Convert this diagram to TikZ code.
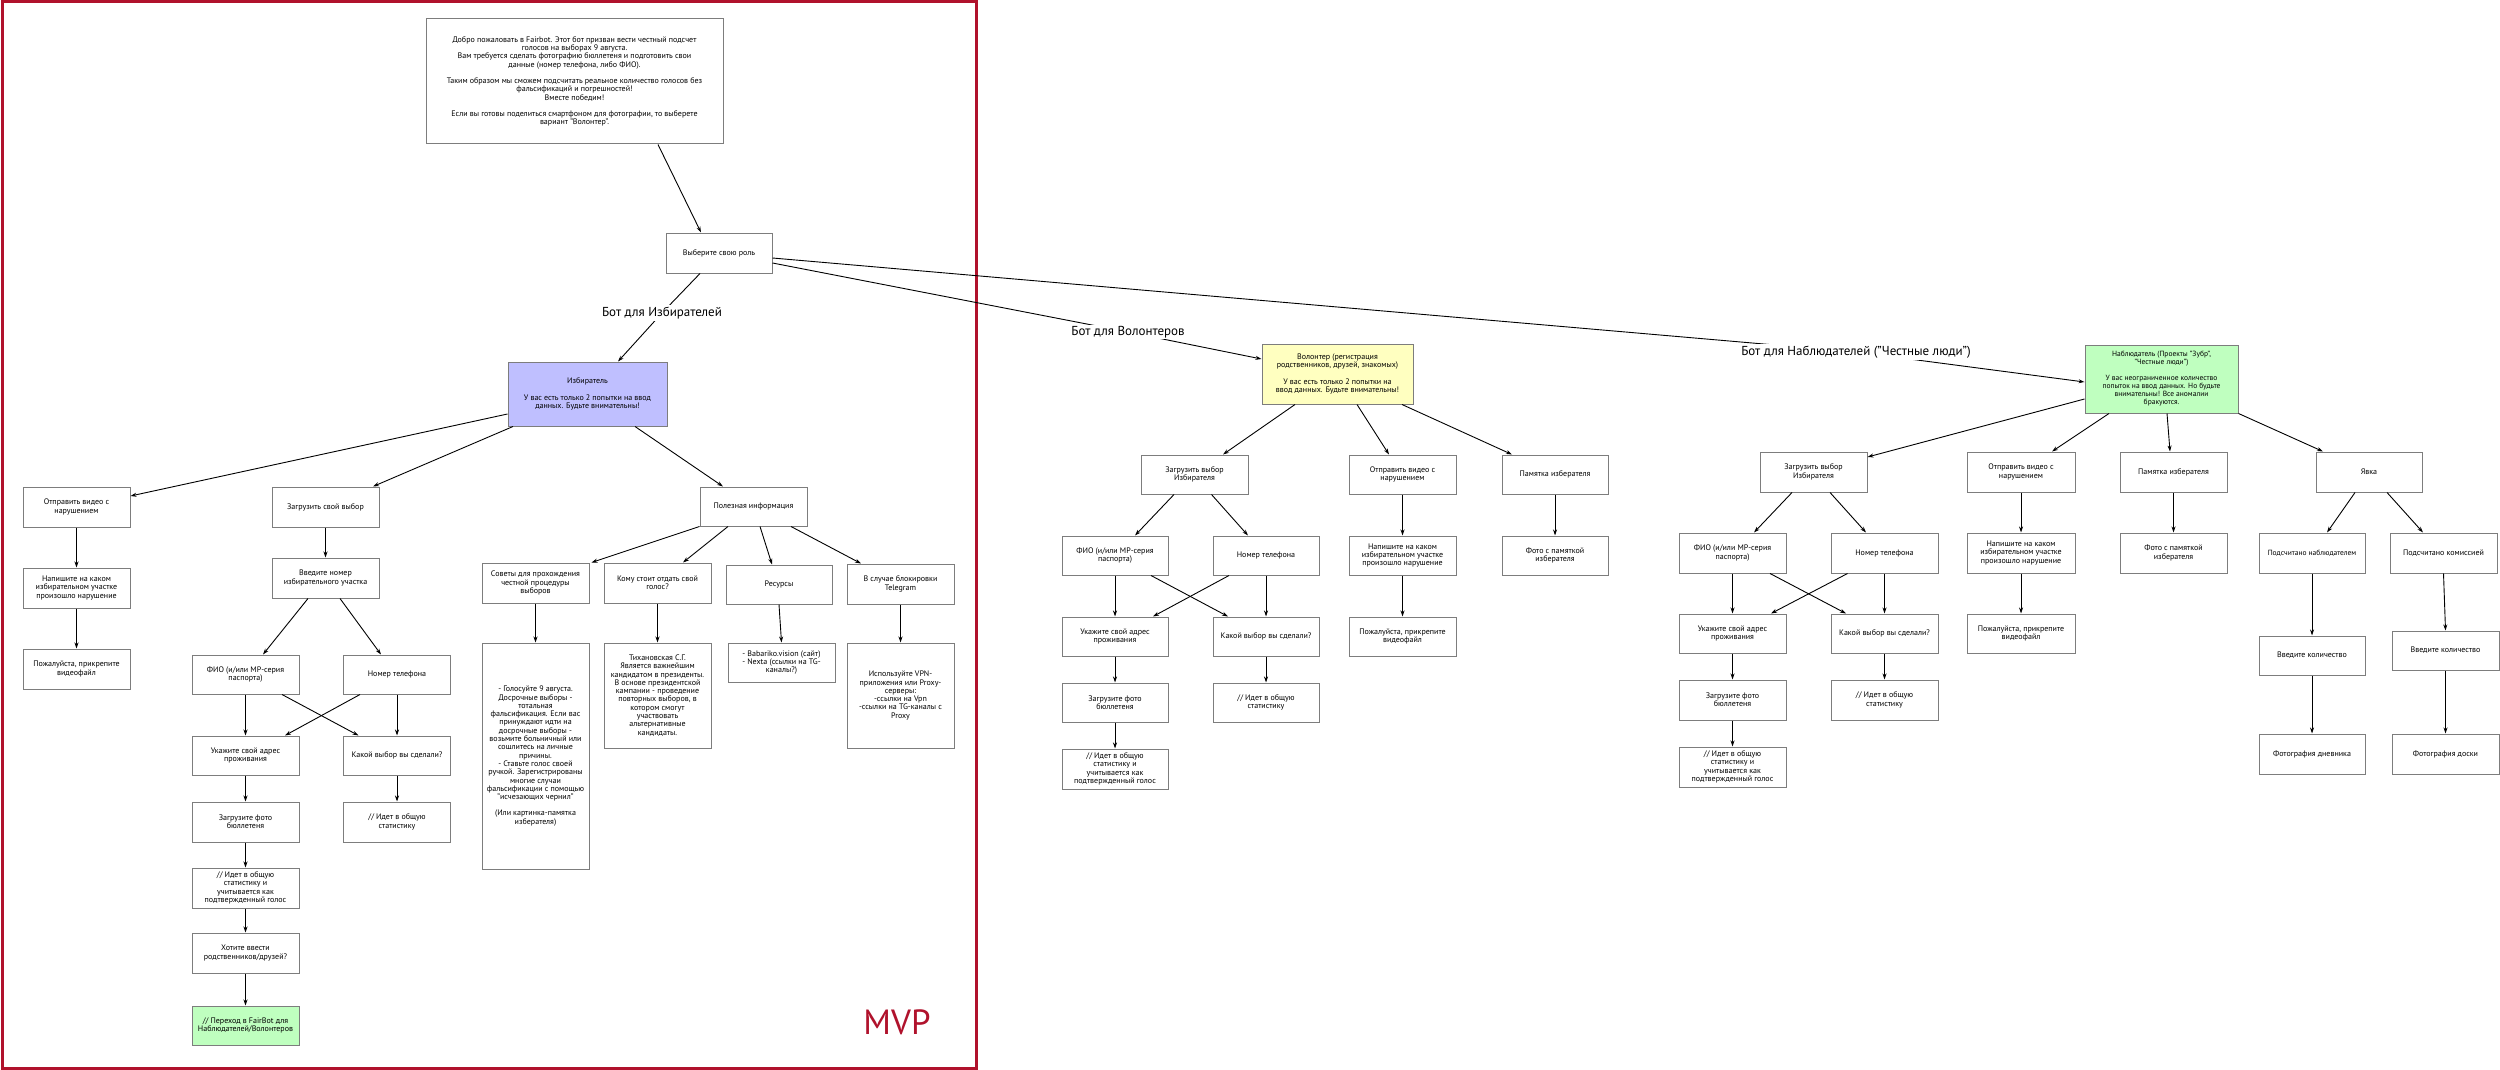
\documentclass[tikz,border=0pt]{standalone}
\usepackage{fontspec}
\setmainfont{PT Sans}
\usetikzlibrary{arrows.meta}
\definecolor{framered}{RGB}{176,18,44}
\definecolor{boxgray}{RGB}{125,125,125}
\definecolor{lav}{RGB}{191,191,255}
\definecolor{lyel}{RGB}{255,255,192}
\definecolor{lgrn}{RGB}{191,255,191}
\begin{document}
\begin{tikzpicture}[x=1pt,y=-1pt,
  box/.style={draw=boxgray, line width=1pt, fill=white, minimum width=107pt, minimum height=40pt, inner sep=1pt, align=center, font=\fontsize{8}{8.3}\selectfont},
  small/.style={font=\fontsize{7.5}{8}\selectfont},
  arr/.style={-{Stealth[length=6pt,width=4pt]}, line width=0.9pt},
  lbl/.style={fill=white, inner sep=1.5pt, font=\fontsize{13}{15}\selectfont}]
\useasboundingbox (0,0) rectangle (2500,1070);
\draw[framered, line width=3pt] (2,2) rectangle (976,1068);
\node[text=framered, font=\fontsize{35}{40}\selectfont] (mvp) at (897,1022) {MVP};

% ---------- top ----------
\node[box, minimum width=297pt, minimum height=125pt] (intro) at (574.5,81.5) {Добро пожаловать в Fairbot. Этот бот призван вести честный подсчет\\голосов на выборах 9 августа.\\Вам требуется сделать фотографию бюллетеня и подготовить свои\\данные (номер телефона, либо ФИО).\\[8pt]Таким образом мы сможем подсчитать реальное количество голосов без\\фальсификаций и погрешностей!\\Вместе победим!\\[8pt]Если вы готовы поделиться смартфоном для фотографии, то выберете\\вариант "Волонтер".};
\node[box, minimum width=106pt] (role) at (719,253) {Выберите свою роль};
\node[box, fill=lav, minimum width=159pt, minimum height=64pt] (izb) at (587.5,394) {Избиратель\\[8pt]У вас есть только 2 попытки на ввод\\данных. Будьте внимательны!};

% ---------- voter tree ----------
\node[box] (otpr) at (76.5,507) {Отправить видео с\\нарушением};
\node[box] (napish) at (76.5,588) {Напишите на каком\\избирательном участке\\произошло нарушение};
\node[box] (pozh) at (76.5,669) {Пожалуйста, прикрепите\\видеофайл};
\node[box] (zagr) at (325.5,507) {Загрузить свой выбор};
\node[box] (vvedite) at (325.5,578) {Введите номер\\избирательного участка};
\node[box, minimum height=39pt] (fio) at (245.5,674.5) {ФИО (и/или МР-серия\\паспорта)};
\node[box, minimum height=39pt] (nomer) at (397,674.5) {Номер телефона};
\node[box, minimum height=39pt] (ukaz) at (245.5,755.5) {Укажите свой адрес\\проживания};
\node[box, minimum height=39pt] (kakoi) at (397,755.5) {Какой выбор вы сделали?};
\node[box] (zfoto) at (245.5,822) {Загрузите фото\\бюллетеня};
\node[box] (idet1) at (397,822) {// Идет в общую\\статистику};
\node[box] (idet2) at (245.5,888) {// Идет в общую\\статистику и\\учитывается как\\подтвержденный голос};
\node[box] (hotite) at (245.5,953) {Хотите ввести\\родственников/друзей?};
\node[box, fill=lgrn, minimum height=39pt] (perehod) at (245.5,1025.5) {// Переход в FairBot для\\Наблюдателей/Волонтеров};
\node[box, minimum height=39pt] (polez) at (753.5,506.5) {Полезная информация};
\node[box] (sovety) at (535.5,583) {Советы для прохождения\\честной процедуры\\выборов};
\node[box] (komu) at (657.5,583) {Кому стоит отдать свой\\голос?};
\node[box, minimum width=106pt, minimum height=39pt] (resursy) at (779,584.5) {Ресурсы};
\node[box] (telegram) at (900.5,584) {В случае блокировки\\Telegram};
\node[box, minimum height=226pt] (sovetyT) at (535.5,756) {- Голосуйте 9 августа.\\Досрочные выборы -\\тотальная\\фальсификация. Если вас\\принуждают идти на\\досрочные выборы -\\возьмите больничный или\\сошлитесь на личные\\причины.\\- Ставьте голос своей\\ручкой. Зарегистрированы\\многие случаи\\фальсификации с помощью\\"исчезающих чернил"\\[8pt](Или картинка-памятка\\изберателя)};
\node[box, minimum height=105pt] (komuT) at (657.5,695.5) {Тихановская С.Г.\\Является важнейшим\\кандидатом в президенты.\\В основе президентской\\кампании - проведение\\повторных выборов, в\\котором смогут\\участвовать\\альтернативные\\кандидаты.};
\node[box, minimum height=39pt] (resT) at (781.5,662.5) {- Babariko.vision (сайт)\\- Nexta (ссылки на TG-\\каналы?)};
\node[box, minimum height=105pt] (telT) at (900.5,695.5) {Используйте VPN-\\приложения или Proxy-\\серверы:\\-ссылки на Vpn\\-ссылки на TG-каналы с\\Proxy};

% ---------- volunteer tree ----------
\node[box, fill=lyel, minimum width=151pt, minimum height=60pt] (vol) at (1337.5,374) {Волонтер (регистрация\\родственников, друзей, знакомых)\\[8pt]У вас есть только 2 попытки на\\ввод данных. Будьте внимательны!};
\node[box, minimum height=39pt] (vZagr) at (1194.5,474.5) {Загрузить выбор\\Избирателя};
\node[box, minimum height=39pt] (vOtpr) at (1402.5,474.5) {Отправить видео с\\нарушением};
\node[box, minimum width=106pt, minimum height=39pt] (vPam) at (1555,474.5) {Памятка изберателя};
\node[box, minimum width=106pt, minimum height=39pt] (vFio) at (1115,555.5) {ФИО (и/или МР-серия\\паспорта)};
\node[box, minimum width=106pt, minimum height=39pt] (vNom) at (1266,555.5) {Номер телефона};
\node[box, minimum height=39pt] (vNap) at (1402.5,555.5) {Напишите на каком\\избирательном участке\\произошло нарушение};
\node[box, minimum width=106pt, minimum height=39pt] (vFoto) at (1555,555.5) {Фото с памяткой\\изберателя};
\node[box, minimum width=106pt, minimum height=39pt] (vUkaz) at (1115,636.5) {Укажите свой адрес\\проживания};
\node[box, minimum width=106pt, minimum height=39pt] (vKak) at (1266,636.5) {Какой выбор вы сделали?};
\node[box, minimum height=39pt] (vPozh) at (1402.5,636.5) {Пожалуйста, прикрепите\\видеофайл};
\node[box, minimum width=106pt, minimum height=39pt] (vZf) at (1115,702.5) {Загрузите фото\\бюллетеня};
\node[box, minimum width=106pt, minimum height=39pt] (vId1) at (1266,702.5) {// Идет в общую\\статистику};
\node[box, minimum width=106pt] (vId2) at (1115,769) {// Идет в общую\\статистику и\\учитывается как\\подтвержденный голос};

% ---------- observer tree ----------
\node[box, small, fill=lgrn, minimum width=153pt, minimum height=68pt] (obs) at (2161.5,379) {Наблюдатель (Проекты "Зубр",\\"Честные люди")\\[8pt]У вас неограниченное количество\\попыток на ввод данных. Но будьте\\внимательны! Все аномалии\\бракуются.};
\node[box] (oZagr) at (1813.5,472) {Загрузить выбор\\Избирателя};
\node[box, minimum width=108pt] (oOtpr) at (2021,472) {Отправить видео с\\нарушением};
\node[box] (oPam) at (2173.5,472) {Памятка изберателя};
\node[box, minimum width=106pt] (oYav) at (2369,472) {Явка};
\node[box] (oFio) at (1732.5,553) {ФИО (и/или МР-серия\\паспорта)};
\node[box] (oNom) at (1884.5,553) {Номер телефона};
\node[box, minimum width=108pt] (oNap) at (2021,553) {Напишите на каком\\избирательном участке\\произошло нарушение};
\node[box] (oFoto) at (2173.5,553) {Фото с памяткой\\изберателя};
\node[box, small, minimum width=106pt] (oPn) at (2312,553) {Подсчитано наблюдателем};
\node[box] (oPk) at (2443.5,553) {Подсчитано комиссией};
\node[box, minimum height=39pt] (oUkaz) at (1732.5,633.5) {Укажите свой адрес\\проживания};
\node[box, minimum height=39pt] (oKak) at (1884.5,633.5) {Какой выбор вы сделали?};
\node[box, minimum width=108pt, minimum height=39pt] (oPozh) at (2021,633.5) {Пожалуйста, прикрепите\\видеофайл};
\node[box, minimum width=106pt, minimum height=39pt] (oVn) at (2312,655.5) {Введите количество};
\node[box, minimum height=39pt] (oVk) at (2445.5,650.5) {Введите количество};
\node[box] (oZf) at (1732.5,700) {Загрузите фото\\бюллетеня};
\node[box] (oId1) at (1884.5,700) {// Идет в общую\\статистику};
\node[box] (oId2) at (1732.5,767) {// Идет в общую\\статистику и\\учитывается как\\подтвержденный голос};
\node[box, minimum width=106pt] (oFd) at (2312,754) {Фотография дневника};
\node[box] (oFdos) at (2445.5,754) {Фотография доски};

% ---------- connectors: top ----------
\draw[arr] ([xshift=83.5pt]intro.south) -- ([xshift=-18pt]role.north);
\coordinate (lI) at (662,313);
\draw[arr] ([xshift=-19pt]role.south) -- (lI) -- ([xshift=30.5pt]izb.north);
\node[lbl] (labI) at (lI) {Бот для Избирателей};
\coordinate (lV) at (1128,332);
\draw[arr] ([yshift=-10pt]role.east) -- (lV) -- ([yshift=15pt]vol.west);
\node[lbl] (labV) at (lV) {Бот для Волонтеров};
\coordinate (lO) at (1856,352);
\draw[arr] ([yshift=-5pt]role.east) -- (lO) -- ([yshift=-3pt]obs.west);
\node[lbl] (labO) at (lO) {Бот для Наблюдателей ("Честные люди")};

% ---------- connectors: voter ----------
\draw[arr] ([yshift=-20pt]izb.west) -- ([yshift=11pt]otpr.east);
\draw[arr] ([xshift=-74.5pt]izb.south) -- ([xshift=47.5pt]zagr.north);
\draw[arr] ([xshift=47.5pt]izb.south) -- ([xshift=-30.5pt]polez.north);
\draw[arr] (otpr) -- (napish);
\draw[arr] (napish) -- (pozh);
\draw[arr] (zagr) -- (vvedite);
\draw[arr] ([xshift=-17.5pt]vvedite.south) -- ([xshift=17.5pt]fio.north);
\draw[arr] ([xshift=14.5pt]vvedite.south) -- ([xshift=-16pt]nomer.north);
\draw[arr] (fio) -- (ukaz);
\draw[arr] ([xshift=36.5pt]fio.south) -- ([xshift=-38.5pt]kakoi.north);
\draw[arr] ([xshift=-37pt]nomer.south) -- ([xshift=39.5pt]ukaz.north);
\draw[arr] (nomer) -- (kakoi);
\draw[arr] (ukaz) -- (zfoto);
\draw[arr] (kakoi) -- (idet1);
\draw[arr] (zfoto) -- (idet2);
\draw[arr] (idet2) -- (hotite);
\draw[arr] (hotite) -- (perehod);
\draw[arr] (polez.south west) -- ([xshift=2pt]sovety.north east);
\draw[arr] ([xshift=-25.5pt]polez.south) -- ([xshift=25.5pt]komu.north);
\draw[arr] ([xshift=6.5pt]polez.south) -- ([xshift=-7pt]resursy.north);
\draw[arr] ([xshift=37.5pt]polez.south) -- ([xshift=-39.5pt]telegram.north);
\draw[arr] (sovety) -- (sovetyT);
\draw[arr] (komu) -- (komuT);
\draw[arr] (resursy.south) -- (resT.north);
\draw[arr] (telegram) -- (telT);

% ---------- connectors: volunteer ----------
\draw[arr] ([xshift=-42.5pt]vol.south) -- ([xshift=28.5pt]vZagr.north);
\draw[arr] ([xshift=19.5pt]vol.south) -- ([xshift=-13.5pt]vOtpr.north);
\draw[arr] ([xshift=64.5pt]vol.south) -- ([xshift=-43pt]vPam.north);
\draw[arr] ([xshift=-20.5pt]vZagr.south) -- ([xshift=20pt]vFio.north);
\draw[arr] ([xshift=17pt]vZagr.south) -- ([xshift=-18pt]vNom.north);
\draw[arr] (vFio) -- (vUkaz);
\draw[arr] ([xshift=36pt]vFio.south) -- ([xshift=-38pt]vKak.north);
\draw[arr] ([xshift=-37pt]vNom.south) -- ([xshift=38pt]vUkaz.north);
\draw[arr] (vNom) -- (vKak);
\draw[arr] (vUkaz) -- (vZf);
\draw[arr] (vZf) -- (vId2);
\draw[arr] (vKak) -- (vId1);
\draw[arr] (vOtpr) -- (vNap);
\draw[arr] (vNap) -- (vPozh);
\draw[arr] (vPam) -- (vFoto);

% ---------- connectors: observer ----------
\draw[arr] ([yshift=-20pt]obs.west) -- ([yshift=15pt]oZagr.east);
\draw[arr] ([xshift=-52.5pt]obs.south) -- ([xshift=31pt]oOtpr.north);
\draw[arr] ([xshift=5.5pt]obs.south) -- ([xshift=-3.5pt]oPam.north);
\draw[arr] (obs.south east) -- ([xshift=-46pt]oYav.north);
\draw[arr] ([xshift=-21.5pt]oZagr.south) -- ([xshift=21.5pt]oFio.north);
\draw[arr] ([xshift=16.5pt]oZagr.south) -- ([xshift=-18.5pt]oNom.north);
\draw[arr] (oFio) -- (oUkaz);
\draw[arr] ([xshift=37.5pt]oFio.south) -- ([xshift=-38.5pt]oKak.north);
\draw[arr] ([xshift=-37pt]oNom.south) -- ([xshift=38.5pt]oUkaz.north);
\draw[arr] (oNom) -- (oKak);
\draw[arr] (oUkaz) -- (oZf);
\draw[arr] (oZf) -- (oId2);
\draw[arr] (oKak) -- (oId1);
\draw[arr] (oOtpr) -- (oNap);
\draw[arr] (oNap) -- (oPozh);
\draw[arr] (oPam) -- (oFoto);
\draw[arr] ([xshift=-14pt]oYav.south) -- ([xshift=15pt]oPn.north);
\draw[arr] ([xshift=18pt]oYav.south) -- ([xshift=-20.5pt]oPk.north);
\draw[arr] (oPn) -- (oVn);
\draw[arr] (oVn) -- (oFd);
\draw[arr] (oPk.south) -- (oVk.north);
\draw[arr] (oVk) -- (oFdos);
\end{tikzpicture}
\end{document}
